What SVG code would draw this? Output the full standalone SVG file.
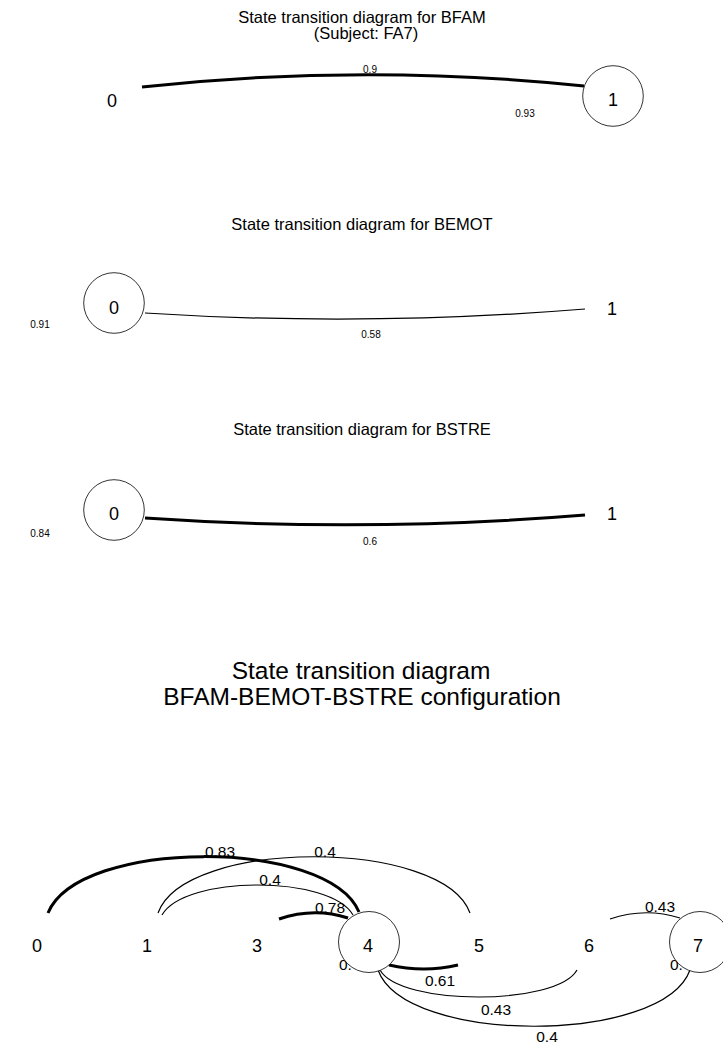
<svg xmlns="http://www.w3.org/2000/svg" width="723" height="1047" viewBox="0 0 723 1047">
<style>
text{font-family:"Liberation Sans",Arial,sans-serif;fill:#000;text-anchor:middle}
.t{font-size:16.5px}
.tb{font-size:24.5px}
.n{font-size:18px}
.s{font-size:10px}
.m{font-size:15.5px}
.l{text-anchor:start}
.e{fill:none;stroke:#000;stroke-width:1.2}
.k{fill:none;stroke:#000;stroke-width:3}
.c{fill:#fff;stroke:#000;stroke-width:0.8}
</style>
<rect width="723" height="1047" fill="#fff"/>
<g id="titles">
<text class="t" x="362" y="23">State transition diagram for BFAM</text>
<text class="t" x="366" y="39">(Subject: FA7)</text>
<text class="t" x="362" y="230">State transition diagram for BEMOT</text>
<text class="t" x="362" y="435">State transition diagram for BSTRE</text>
<text class="tb" x="361" y="679">State transition diagram</text>
<text class="tb" x="362" y="705">BFAM-BEMOT-BSTRE configuration</text>
</g>
<g id="connectors">
<path class="k" d="M142,87 Q363,63 584,86"/>
<path class="e" d="M145,313 Q365,327 585,309"/>
<path class="k" d="M145,518 Q365,533 585,515"/>
<path class="k" d="M48,913 C79,838 328,838 359,912"/>
<path class="e" d="M158,913 C185,838 443,838 470,913"/>
<path class="e" d="M162,915 C185,875 330,875 353,915"/>
<path class="k" d="M279,919 Q314,907 348,918"/>
<path class="k" d="M389,965 Q424,973 458,965"/>
<path class="e" d="M380,970 C400,1006 557,1006 577,970"/>
<path class="e" d="M378,970 C405,1045 663,1045 690,970"/>
<path class="e" d="M610,919 Q645,907 680,918"/>
</g>
<g id="edge-labels">
<text class="s" x="370" y="73">0.9</text>
<text class="s" x="525" y="117">0.93</text>
<text class="s" x="40" y="328">0.91</text>
<text class="s" x="371" y="338">0.58</text>
<text class="s" x="40" y="537">0.84</text>
<text class="s" x="370" y="545">0.6</text>
<text class="m" x="220" y="857">0.83</text>
<text class="m" x="325" y="857">0.4</text>
<text class="m" x="270" y="885">0.4</text>
<text class="m" x="330" y="913">0.78</text>
<text class="m" x="440" y="986">0.61</text>
<text class="m" x="496" y="1015">0.43</text>
<text class="m" x="547" y="1042">0.4</text>
<text class="m" x="660" y="912">0.43</text>
<text class="m l" x="339" y="970">0.</text>
<text class="m l" x="670" y="970">0.</text>
</g>
<g id="p1-node-0"><text class="n" x="112" y="107">0</text></g>
<g id="p1-node-1"><circle class="c" cx="613" cy="96" r="30.3"/><text class="n" x="613" y="106">1</text></g>
<g id="p2-node-0"><circle class="c" cx="114" cy="303" r="30.3"/><text class="n" x="114" y="314">0</text></g>
<g id="p2-node-1"><text class="n" x="612" y="315">1</text></g>
<g id="p3-node-0"><circle class="c" cx="114" cy="510" r="30.3"/><text class="n" x="114" y="520">0</text></g>
<g id="p3-node-1"><text class="n" x="612" y="520">1</text></g>
<g id="p4-node-0"><text class="n" x="37" y="952">0</text></g>
<g id="p4-node-1"><text class="n" x="147" y="952">1</text></g>
<g id="p4-node-3"><text class="n" x="257" y="952">3</text></g>
<g id="p4-node-4"><circle class="c" cx="369" cy="942" r="30.5"/><text class="n" x="368" y="952">4</text></g>
<g id="p4-node-5"><text class="n" x="479" y="952">5</text></g>
<g id="p4-node-6"><text class="n" x="589" y="952">6</text></g>
<g id="p4-node-7"><circle class="c" cx="700" cy="942" r="30.5"/><text class="n" x="698" y="952">7</text></g>
</svg>
